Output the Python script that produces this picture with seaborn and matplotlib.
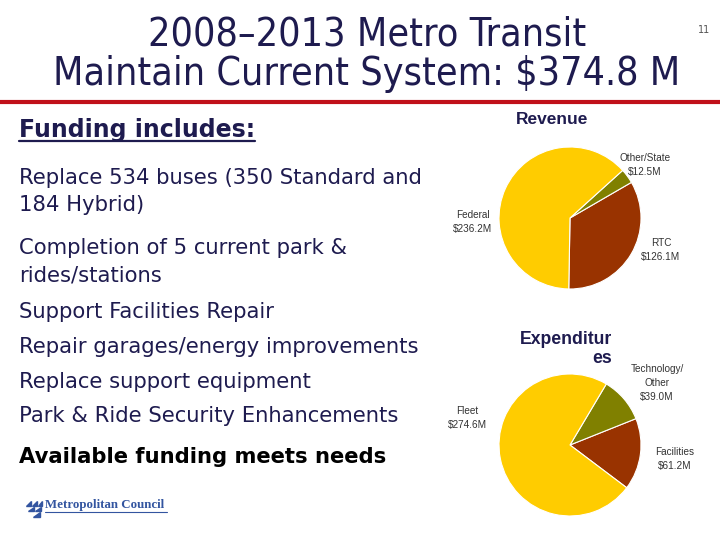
import matplotlib
matplotlib.use("Agg")
import matplotlib.pyplot as plt
import seaborn as sns
from matplotlib.lines import Line2D
from matplotlib.patches import Polygon

# --- data ---
rev_labels = ["RTC", "Other/State", "Federal"]
rev_values = [126.1, 12.5, 236.2]
exp_labels = ["Facilities", "Technology/\nOther", "Fleet"]
exp_values = [61.2, 39.0, 274.6]
slice_colors = ["#993300", "#808000", "#FFCC00"]

bullets = [
    "Replace 534 buses (350 Standard and\n184 Hybrid)",
    "Completion of 5 current park &\nrides/stations",
    "Support Facilities Repair",
    "Repair garages/energy improvements",
    "Replace support equipment",
    "Park & Ride Security Enhancements",
]

W, H = 720, 540
NAVY = "#1e1b4f"

sns.set_theme(style="white")
plt.rcParams["font.family"] = ["DejaVu Sans"]

fig = plt.figure(figsize=(W / 100, H / 100), dpi=100)
fig.patch.set_facecolor("white")


def fx(x):
    return x / W


def fy(y):
    return 1 - y / H


# title
fig.text(fx(367), fy(34), "2008\u20132013 Metro Transit", ha="center", va="center",
         fontsize=28.3, color=NAVY, fontstretch="condensed")
fig.text(fx(367), fy(74), "Maintain Current System: $374.8 M", ha="center", va="center",
         fontsize=28.3, color=NAVY, fontstretch="condensed")
fig.text(fx(704), fy(30), "11", ha="center", va="center", fontsize=7, color="#555555")

# red rule
fig.add_artist(Line2D([0, 1], [fy(102), fy(102)], color="#c0101a", lw=3.0))

# left column
t = fig.text(fx(19), fy(130), "Funding includes:", ha="left", va="center",
             fontsize=17, fontweight="bold", color=NAVY)
fig.canvas.draw()
bb = t.get_window_extent(fig.canvas.get_renderer())
fig.add_artist(Line2D([bb.x0 / W, bb.x1 / W], [fy(141), fy(141)], color=NAVY, lw=1.6))

bullet_y = [191.5, 262, 312, 347, 382, 416]
for txt, y in zip(bullets, bullet_y):
    fig.text(fx(19), fy(y), txt, ha="left", va="center", fontsize=15.2,
             color=NAVY, linespacing=1.45)

fig.text(fx(19), fy(457), "Available funding meets needs", ha="left", va="center",
         fontsize=15.2, fontweight="bold", color="black")

# logo
logo_c = "#3355a0"
tris = [
    [(26, 506), (31, 506), (31, 501)],
    [(32, 506), (37, 506), (37, 501)],
    [(38, 506), (42, 506), (42, 501)],
    [(28, 511), (34, 511), (34, 507)],
    [(35, 511), (41, 511), (41, 507)],
    [(33, 517), (40, 517), (40, 512)],
]
for tri in tris:
    fig.add_artist(Polygon([(fx(a), fy(b)) for a, b in tri], closed=True,
                           color=logo_c, transform=fig.transFigure))
fig.text(fx(45), fy(505), "Metropolitan Council", ha="left", va="center",
         fontsize=9.3, fontweight="bold", family="Liberation Serif", color=logo_c)
fig.add_artist(Line2D([fx(45), fx(167)], [fy(512), fy(512)], color=logo_c, lw=0.8))


def draw_pie(cx, cy, r, values, labels, start, label_pos):
    ax = fig.add_axes([fx(cx - r), fy(cy + r), 2 * r / W, 2 * r / H])
    ax.pie(values, colors=slice_colors, startangle=start, counterclock=True,
           wedgeprops=dict(edgecolor="white", linewidth=0.8))
    ax.set_xlim(-1, 1)
    ax.set_ylim(-1, 1)
    ax.set_aspect("auto")
    ax.axis("off")
    for lab, val, (px, py) in zip(labels, values, label_pos):
        fig.text(fx(px), fy(py), f"{lab}\n${val:.1f}M", ha="center", va="center",
                 fontsize=7.2, color="#333333", family="Liberation Sans",
                 linespacing=1.5)
    return ax


draw_pie(570, 218, 71, rev_values, rev_labels, -91,
         [(661, 250), (645, 165), (473, 222)])
draw_pie(570, 445, 71, exp_values, exp_labels, -37,
         [(675, 459), (657, 383), (467, 418)])

fig.text(fx(552), fy(119), "Revenue", ha="center", va="center", fontsize=12.5,
         fontweight="bold", color=NAVY, family="Liberation Sans")
fig.text(fx(612), fy(349), "Expenditur\nes", ha="right", va="center", fontsize=12.7,
         fontweight="bold", color=NAVY, family="Liberation Sans", linespacing=1.2)

fig.savefig("out.png", dpi=100, facecolor="white")
